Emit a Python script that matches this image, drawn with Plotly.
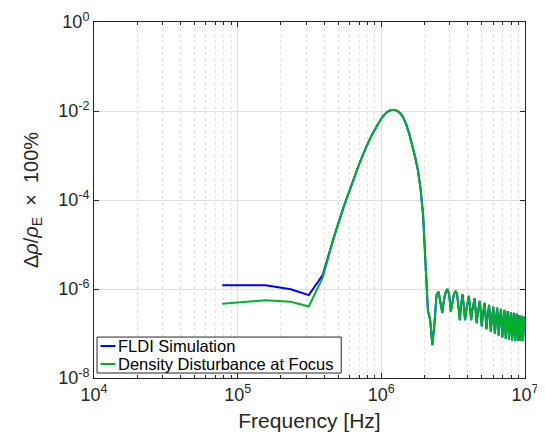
import plotly.graph_objects as go

# Frequency grid [Hz] (spectral bins)
freq_hz = [
    78125, 156250, 234375, 312500, 390625, 468750, 546875, 625000,
    703125, 781250, 859375, 937500, 1015625, 1093750, 1171875, 1250000,
    1328125, 1406250, 1484375, 1562500, 1640625, 1718750, 1796875, 1875000,
    1953125, 2031250, 2109375, 2187500, 2265625, 2343750, 2421875, 2500000,
    2578125, 2656250, 2734375, 2812500, 2890625, 2968750, 3046875, 3125000,
    3203125, 3281250, 3359375, 3437500, 3515625, 3593750, 3671875, 3750000,
    3828125, 3906250, 3984375, 4062500, 4140625, 4218750, 4296875, 4375000,
    4453125, 4531250, 4609375, 4687500, 4765625, 4843750, 4921875, 5000000,
    5078125, 5156250, 5234375, 5312500, 5390625, 5468750, 5546875, 5625000,
    5703125, 5781250, 5859375, 5937500, 6015625, 6093750, 6171875, 6250000,
    6328125, 6406250, 6484375, 6562500, 6640625, 6718750, 6796875, 6875000,
    6953125, 7031250, 7109375, 7187500, 7265625, 7343750, 7421875, 7500000,
    7578125, 7656250, 7734375, 7812500, 7890625, 7968750, 8046875, 8125000,
    8203125, 8281250, 8359375, 8437500, 8515625, 8593750, 8671875, 8750000,
    8828125, 8906250, 8984375, 9062500, 9140625, 9218750, 9296875, 9375000,
    9453125, 9531250, 9609375, 9687500, 9765625, 9843750, 9921875, 10000000,
]

# Density disturbance at focus (Δρ/ρE × 100%)
focus_vals = [
    4.65e-7, 5.6e-7, 5.15e-7, 4.05e-7, 1.8e-6, 1.5e-5, 7.0e-5, 2.4e-4,
    6.6e-4, 1.5e-3, 2.9e-3, 4.8e-3, 7.3e-3, 9.5e-3, 1.05e-2, 1.05e-2,
    9.5e-3, 7.6e-3, 5.2e-3, 3.1e-3, 1.7e-3, 9.3e-4, 4.7e-4, 1.8e-4,
    4.5e-5, 3.5e-6, 3.3e-7, 2.0e-7, 5.5e-8, 1.7e-7, 7.3e-7, 8.7e-7,
    4.8e-7, 2.9e-7, 6.0e-7, 8.7e-7, 1.0e-6, 7.3e-7, 3.1e-7, 5.5e-7,
    7.6e-7, 9.0e-7, 8.0e-7, 4.2e-7, 2.0e-7, 4.5e-7, 7.6e-7, 4.2e-7,
    2.0e-7, 3.4e-7, 5.5e-7, 7.0e-7, 4.0e-7, 2.0e-7, 3.3e-7, 5.1e-7,
    6.1e-7, 3.4e-7, 1.7e-7, 2.8e-7, 4.4e-7, 5.4e-7, 3.0e-7, 1.45e-7,
    2.45e-7, 3.9e-7, 4.9e-7, 2.65e-7, 1.25e-7, 2.15e-7, 3.5e-7, 4.4e-7,
    2.35e-7, 1.1e-7, 1.9e-7, 3.1e-7, 4.0e-7, 2.1e-7, 9.8e-8, 1.7e-7,
    2.8e-7, 3.8e-7, 2.0e-7, 9.0e-8, 1.6e-7, 2.65e-7, 3.6e-7, 1.85e-7,
    8.2e-8, 1.5e-7, 2.5e-7, 3.4e-7, 1.75e-7, 7.6e-8, 1.4e-7, 2.35e-7,
    3.2e-7, 1.65e-7, 7.2e-8, 1.3e-7, 2.2e-7, 3.0e-7, 1.55e-7, 7.0e-8,
    1.25e-7, 2.1e-7, 2.9e-7, 1.5e-7, 6.8e-8, 1.2e-7, 2.0e-7, 2.8e-7,
    1.5e-7, 6.8e-8, 1.2e-7, 1.95e-7, 2.6e-7, 1.4e-7, 6.8e-8, 1.15e-7,
    1.85e-7, 2.5e-7, 1.4e-7, 6.8e-8, 1.15e-7, 1.8e-7, 2.4e-7, 1.35e-7,
]

# FLDI simulation: differs from the focus disturbance only in the lowest bins
fldi_low_vals = [1.22e-6, 1.22e-6, 9.9e-7, 7.3e-7, 2.05e-6]
fldi_vals = fldi_low_vals + focus_vals[len(fldi_low_vals):]

series_names = ["FLDI Simulation", "Density Disturbance at Focus"]
series_colors = ["#0000ff", "#00b22a"]

x_tickvals = [1e4, 1e5, 1e6, 1e7]
x_ticktext = ["10<sup>4</sup>", "10<sup>5</sup>", "10<sup>6</sup>", "10<sup>7</sup>"]
y_tickvals = [1e-8, 1e-6, 1e-4, 1e-2, 1]
y_ticktext = ["10<sup>-8</sup>", "10<sup>-6</sup>", "10<sup>-4</sup>", "10<sup>-2</sup>", "10<sup>0</sup>"]

FONT = "Liberation Sans, Arial, Helvetica, sans-serif"
AX = "#262626"

fig = go.Figure()
for vals, name, col in zip([fldi_vals, focus_vals], series_names, series_colors):
    fig.add_trace(go.Scatter(x=freq_hz, y=vals, mode="lines", name=name,
                             line=dict(color=col, width=2), showlegend=False))

# Legend box drawn in MATLAB style (short line samples)
L_X0, L_X1, L_Y0, L_Y1 = 0.007, 0.5736, 0.014, 0.115
fig.add_shape(type="rect", xref="paper", yref="paper", x0=L_X0, x1=L_X1, y0=L_Y0, y1=L_Y1,
              line=dict(color=AX, width=1), fillcolor="white", layer="above")
for ypos, name, col in zip([0.0898, 0.0393], series_names, series_colors):
    fig.add_shape(type="line", xref="paper", yref="paper", x0=0.0151, x1=0.0498, y0=ypos, y1=ypos,
                  line=dict(color=col, width=2), layer="above")
    fig.add_annotation(xref="paper", yref="paper", x=0.052, y=ypos, text=name, showarrow=False,
                       xanchor="left", yanchor="middle", font=dict(size=16.5, color="black", family=FONT))

# The page body adds an 8px margin at left/top, so the figure is 8px smaller.
fig.update_layout(
    width=537, height=430,
    margin=dict(l=85.5, r=20, t=13.5, b=60),
    paper_bgcolor="white", plot_bgcolor="white",
    font=dict(family=FONT, size=16, color=AX),
    showlegend=False,
    xaxis=dict(type="log", range=[4, 7], tickmode="array", automargin=False,
               tickvals=x_tickvals, ticktext=x_ticktext,
               showline=True, linecolor=AX, linewidth=1, mirror="ticks",
               ticks="inside", ticklen=5, tickcolor=AX,
               showgrid=True, gridcolor="#e0e0e0", gridwidth=1,
               zeroline=False,
               minor=dict(dtick="D1", ticks="inside", ticklen=3, tickcolor=AX,
                          showgrid=True, gridcolor="#e3e3e3", griddash="dot", gridwidth=1),
               title=dict(text="Frequency [Hz]", font=dict(size=21, color=AX), standoff=9),
               tickfont=dict(size=18, color=AX)),
    yaxis=dict(type="log", range=[-8, 0], tickmode="array", automargin=False,
               tickvals=y_tickvals, ticktext=y_ticktext,
               showline=True, linecolor=AX, linewidth=1, mirror="ticks",
               ticks="inside", ticklen=5, tickcolor=AX,
               showgrid=True, gridcolor="#e0e0e0", gridwidth=1,
               zeroline=False,
               title=dict(text="Δ<i>ρ</i>/<i>ρ</i><sub>E</sub>  ×  100%", font=dict(size=20, color=AX), standoff=14),
               tickfont=dict(size=18, color=AX)),
)

fig.write_html("out.html")
